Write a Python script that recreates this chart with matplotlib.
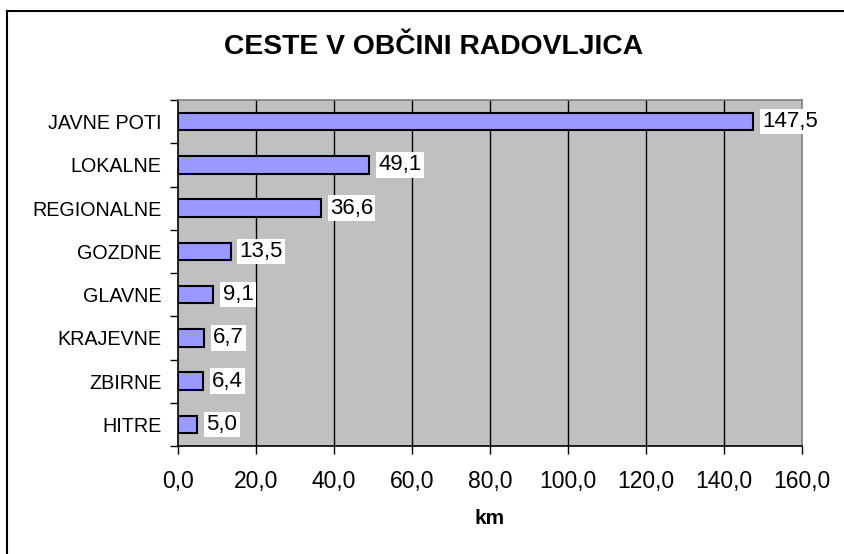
import matplotlib
matplotlib.use('Agg')
import matplotlib.pyplot as plt
from matplotlib.lines import Line2D

plt.rcParams['font.family'] = ['Liberation Sans', 'DejaVu Sans']

# data (top to bottom as in the chart)
categories = ['JAVNE POTI', 'LOKALNE', 'REGIONALNE', 'GOZDNE',
              'GLAVNE', 'KRAJEVNE', 'ZBIRNE', 'HITRE']
km = [147.5, 49.1, 36.6, 13.5, 9.1, 6.7, 6.4, 5.0]
xticks = [0, 20, 40, 60, 80, 100, 120, 140, 160]


def fmt(v):
    return '{:.1f}'.format(v).replace('.', ',')


fig = plt.figure(figsize=(8.45, 5.54), dpi=100)
ax = fig.add_axes([178 / 845, 1 - 446 / 554, 624 / 845, 346 / 554])
ax.set_facecolor('#C0C0C0')

ypos = list(range(len(categories)))
ax.barh(ypos, km, height=0.4, color='#9999FF', edgecolor='black',
        linewidth=1.5, zorder=3)

for y, v in zip(ypos, km):
    ax.annotate(fmt(v), xy=(v, y), xytext=(6.5, 0), textcoords='offset points',
                ha='left', va='center', fontsize=16, zorder=4,
                bbox=dict(boxstyle='square,pad=0.1', fc='white', ec='none'))

ax.set_ylim(len(categories) - 0.5, -0.5)
ax.set_yticks(ypos)
ax.set_yticklabels(categories, fontsize=14.2)
ax.set_yticks([i - 0.5 for i in range(len(categories) + 1)], minor=True)
ax.tick_params(axis='y', which='major', length=0, pad=12)
ax.tick_params(axis='y', which='minor', length=6, width=1, direction='out')

ax.set_xlim(0, 160)
ax.set_xticks(xticks)
ax.set_xticklabels([fmt(t) for t in xticks], fontsize=16.5)
ax.tick_params(axis='x', length=6, width=1, direction='out', pad=11)

for t in xticks[1:-1]:
    ax.axvline(t, color='black', linewidth=1, zorder=1)

ax.spines['top'].set_color('#808080')
ax.spines['right'].set_color('#808080')
ax.spines['left'].set_color('black')
ax.spines['bottom'].set_color('black')
for s in ax.spines.values():
    s.set_linewidth(1.2)

ax.set_xlabel('km', fontsize=15, fontweight='bold', labelpad=12)

fig.text(434 / 845, 1 - 47 / 554, 'CESTE V OBČINI RADOVLJICA', ha='center',
         va='center', fontsize=20.3, fontweight='bold')

# outer frame (only left and top edges visible)
fig.add_artist(Line2D([7.5 / 845, 7.5 / 845], [0, 1 - 10.5 / 554],
                      color='black', linewidth=1.5, transform=fig.transFigure))
fig.add_artist(Line2D([7.5 / 845, 1], [1 - 10.5 / 554, 1 - 10.5 / 554],
                      color='black', linewidth=1.5, transform=fig.transFigure))

fig.savefig('out.png', dpi=100)
